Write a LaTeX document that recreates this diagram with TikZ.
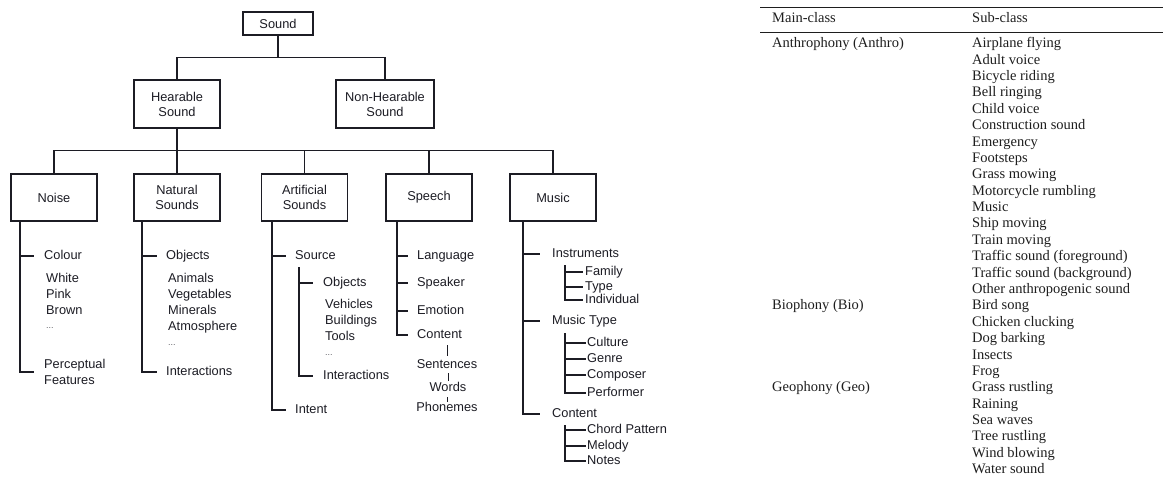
\documentclass[tikz,border=0pt]{standalone}
\usepackage{fontspec}
\setmainfont{Liberation Sans}
\newfontfamily\tabfont{Liberation Serif}
\usetikzlibrary{calc}
\definecolor{ink}{HTML}{1C1C24}
\definecolor{tabink}{HTML}{1E1E1E}
\tikzset{
  box/.style={draw=ink, line width=1.1pt, align=center, inner sep=0pt,
    font=\fontsize{12.8}{15}\selectfont, text=ink},
  item/.style={anchor=west, inner sep=0pt, text height=9pt, text depth=3pt,
    font=\fontsize{12.8}{15}\selectfont, text=ink},
  citem/.style={anchor=center, inner sep=0pt, text height=9pt, text depth=3pt,
    font=\fontsize{12.8}{15}\selectfont, text=ink},
  dots/.style={anchor=west, inner sep=0pt, font=\fontsize{9}{10}\selectfont, text=ink!70},
  ln/.style={draw=ink, line width=1.1pt},
  tab/.style={anchor=west, inner sep=0pt, text height=10pt, text depth=3.4pt,
    font=\tabfont\fontsize{14.5}{16}\selectfont, text=tabink},
  rule/.style={draw=tabink, line width=0.9pt}
}
\begin{document}
\begin{tikzpicture}[x=1pt,y=-1pt]
\useasboundingbox (0,0) rectangle (1163,477);
\fill[white] (0,0) rectangle (1163,477);

% ---- top levels
\node[box, minimum width=70pt, minimum height=23pt] (sound) at (278,23.5) {Sound};
\node[box, minimum width=86pt, minimum height=48pt] (hear) at (177,104) {Hearable\\Sound};
\node[box, minimum width=98pt, minimum height=48pt] (nonh) at (385,104) {Non-Hearable\\Sound};
\foreach \n/\x/\t in {noise/54/Noise, nat/177/Natural\\Sounds, art/304.5/Artificial\\Sounds, speech/429/Speech, music/553/Music}
  \node[box, minimum width=86pt, minimum height=47pt] (\n) at (\x,197.5) {\t};

\draw[ln] (sound.south) -- ++(0,22) coordinate (j1);
\draw[ln] (j1) -| (hear.north);
\draw[ln] (j1) -| (nonh.north);
\draw[ln] (hear.south) -- ++(0,22) coordinate (j2);
\foreach \n in {noise,nat,art,speech,music}
  \draw[ln] (j2) -| (\n.north);

% ---- Noise
\coordinate (nt) at (20,221);
\node[item] (colour) at (44,256) {Colour};
\node[item] (white) at (46,279) {White};
\node[item] (pink) at (46,295) {Pink};
\node[item] (brown) at (46,311) {Brown};
\node[dots] (ndots) at (46,328) {...};
\node[anchor=west, inner sep=0pt, align=left, font=\fontsize{12.8}{16}\selectfont, text=ink] (perc) at (44,372) {Perceptual\\Features};
\draw[ln] (nt |- colour.west) -- ([xshift=-10pt]colour.west);
\draw[ln] (nt) |- ([xshift=-10pt]perc.west);

% ---- Natural sounds
\coordinate (natt) at (142,221);
\node[item] (nobj) at (166,256) {Objects};
\node[item] (anim) at (168,279) {Animals};
\node[item] (veg) at (168,295) {Vegetables};
\node[item] (mine) at (168,311) {Minerals};
\node[item] (atmo) at (168,327) {Atmosphere};
\node[dots] (natdots) at (168,345) {...};
\node[item] (ninter) at (166,372) {Interactions};
\draw[ln] (natt |- nobj.west) -- ([xshift=-9pt]nobj.west);
\draw[ln] (natt) |- ([xshift=-9pt]ninter.west);

% ---- Artificial sounds
\coordinate (artt) at (272,221);
\node[item] (src) at (295,256) {Source};
\coordinate (srct) at (299,267);
\node[item] (aobj) at (323,283) {Objects};
\node[item] (veh) at (325,305) {Vehicles};
\node[item] (bld) at (325,321) {Buildings};
\node[item] (tools) at (325,337) {Tools};
\node[dots] (artdots) at (325,355) {...};
\node[item] (ainter) at (323,376) {Interactions};
\node[item] (intent) at (295,410) {Intent};
\draw[ln] (artt |- src.west) -- ([xshift=-9pt]src.west);
\draw[ln] (srct |- aobj.west) -- ([xshift=-10pt]aobj.west);
\draw[ln] (srct) |- ([xshift=-10pt]ainter.west);
\draw[ln] (artt) |- ([xshift=-9pt]intent.west);

% ---- Speech
\coordinate (spt) at (397,221);
\node[item] (lang) at (417,256) {Language};
\node[item] (spk) at (417,283) {Speaker};
\node[item] (emo) at (417,311) {Emotion};
\node[item] (scont) at (417,335) {Content};
\node[citem] (sent) at (447,365) {Sentences};
\node[citem] (words) at (448,388) {Words};
\node[citem] (phon) at (447,408) {Phonemes};
\foreach \n in {lang,spk,emo}
  \draw[ln] (spt |- \n.west) -- ([xshift=-9pt]\n.west);
\draw[ln] (spt) |- ([xshift=-9pt]scont.west);
\draw[draw=ink, line width=0.9pt, shorten <=4pt, shorten >=3pt] (sent.north |- scont.south) -- (sent.north);
\draw[draw=ink, line width=0.9pt, shorten <=2pt, shorten >=1pt] (words.north |- sent.south) -- (words.north);
\draw[draw=ink, line width=0.9pt, shorten <=3pt, shorten >=0pt] (phon.north |- words.south) -- (phon.north);

% ---- Music
\coordinate (mt) at (523,221);
\node[item] (instr) at (552,254) {Instruments};
\node[item] (fam) at (585,272) {Family};
\node[item] (type) at (585,287) {Type};
\node[item] (indiv) at (585,300) {Individual};
\node[item] (mtype) at (552,321) {Music Type};
\node[item] (cult) at (587,343) {Culture};
\node[item] (genre) at (587,359) {Genre};
\node[item] (comp) at (587,375) {Composer};
\node[item] (perf) at (587,393) {Performer};
\node[item] (mcont) at (552,414) {Content};
\node[item] (chord) at (587,430) {Chord Pattern};
\node[item] (mel) at (587,446) {Melody};
\node[item] (notes) at (587,461) {Notes};
\draw[ln] (mt |- instr.west) -- ([xshift=-12pt]instr.west);
\draw[ln] (mt |- mtype.west) -- ([xshift=-12pt]mtype.west);
\draw[ln] (mt) |- ([xshift=-12pt]mcont.west);
% sub trunks
\coordinate (it) at (565,265);
\draw[ln] (it |- fam.west) -- ([xshift=-2pt]fam.west);
\draw[ln] (it |- type.west) -- ([xshift=-2pt]type.west);
\draw[ln] (it) |- ([xshift=-2pt]indiv.west);
\coordinate (tt) at (565,333);
\foreach \n in {cult,genre,comp}
  \draw[ln] (tt |- \n.west) -- ([xshift=-1pt]\n.west);
\draw[ln] (tt) |- ([xshift=-1pt]perf.west);
\coordinate (ct) at (565,425);
\foreach \n in {chord,mel}
  \draw[ln] (ct |- \n.west) -- ([xshift=-1pt]\n.west);
\draw[ln] (ct) |- ([xshift=-1pt]notes.west);

% ---- Table
\draw[rule] (760,7) -- (1163,7);
\draw[rule] (760,32) -- (1163,32);
\node[tab] (hmain) at (772,19.5) {Main-class};
\node[tab] (hsub) at (972,19.5) {Sub-class};
\node[tab] (anthro) at (772,44.5) {Anthrophony (Anthro)};
\node[tab] (bio) at (772,306.6) {Biophony (Bio)};
\node[tab] (geo) at (772,388.5) {Geophony (Geo)};
\foreach \t [count=\i] in {Airplane flying, Adult voice, Bicycle riding, Bell ringing, Child voice, Construction sound, Emergency, Footsteps, Grass mowing, Motorcycle rumbling, Music, Ship moving, Train moving, Traffic sound (foreground), Traffic sound (background), Other anthropogenic sound, Bird song, Chicken clucking, Dog barking, Insects, Frog, Grass rustling, Raining, Sea waves, Tree rustling, Wind blowing, Water sound}
  \node[tab] (sub\i) at (972,{44.5+16.38*(\i-1)}) {\t};
\end{tikzpicture}
\end{document}
